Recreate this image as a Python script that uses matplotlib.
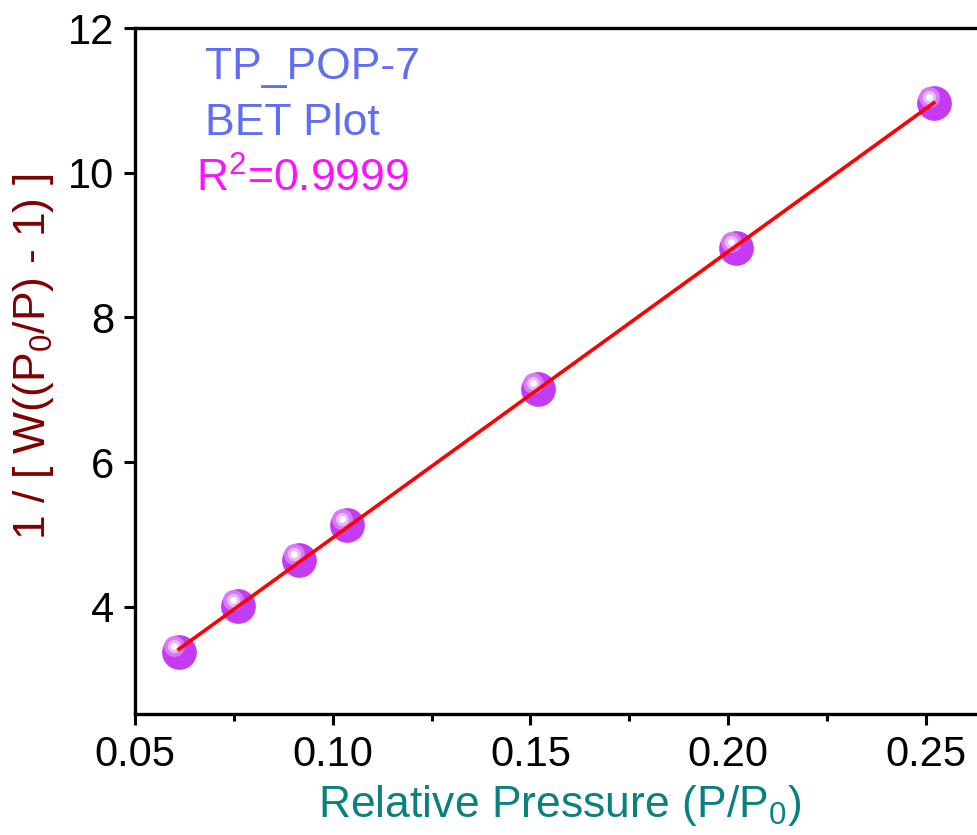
import numpy as np
import matplotlib
matplotlib.use("Agg")
import matplotlib.pyplot as plt
import matplotlib.transforms as mtransforms
from matplotlib.ticker import MultipleLocator, FormatStrFormatter

plt.rcParams["font.family"] = ["Liberation Sans", "DejaVu Sans"]
plt.rcParams["mathtext.fontset"] = "custom"
plt.rcParams["mathtext.rm"] = "Liberation Sans"
plt.rcParams["mathtext.it"] = "Liberation Sans"

# BET datos
presion_rel = [0.0611, 0.0761, 0.0915, 0.1037, 0.1519, 0.2019, 0.2520]
bet_y = [3.37, 4.01, 4.65, 5.13, 7.01, 8.96, 10.97]
x_ticks = [0.05, 0.10, 0.15, 0.20, 0.25]
y_ticks = [4, 6, 8, 10, 12]
muestra = "TP_POP-7"
r2_texto = "0.9999"

px = np.array(presion_rel)
py = np.array(bet_y)

fig = plt.figure(figsize=(9.77, 8.35), dpi=100)
# el eje se sale por la derecha, igual que en la imagen recortada
ax = fig.add_axes([135 / 977, 121 / 835, 870 / 977, 686 / 835])

# esferas: base + brillo desplazado arriba-izquierda
brillo = mtransforms.offset_copy(ax.transData, fig=fig, x=-5, y=6, units="dots")
ax.scatter(px, py, s=25 ** 2, color="#c43cf2", zorder=3, linewidths=0)
ax.scatter(px, py, s=15 ** 2, color="#d77cf5", zorder=4, linewidths=0, transform=brillo)
ax.scatter(px, py, s=9.5 ** 2, color="#eab8f9", zorder=5, linewidths=0, transform=brillo)
ax.scatter(px, py, s=5 ** 2, color="white", zorder=6, linewidths=0, transform=brillo)

# ajuste lineal
m, b = np.polyfit(px, py, 1)
xs = np.array([px.min(), px.max()])
ax.plot(xs, m * xs + b, color="#ff0000", lw=2.6, zorder=7)

ax.set_xlim(0.05, 0.27)
ax.set_ylim(2.52, 12)
ax.set_xticks(x_ticks)
ax.set_yticks(y_ticks)
ax.xaxis.set_minor_locator(MultipleLocator(0.025))
ax.xaxis.set_major_formatter(FormatStrFormatter("%.2f"))
ax.tick_params(axis="both", which="major", direction="out", length=8, width=2.2,
               labelsize=30, pad=7)
ax.tick_params(axis="x", which="minor", direction="out", length=5, width=2.2)
for lado in ["left", "bottom", "top"]:
    ax.spines[lado].set_linewidth(2.4)
ax.spines["right"].set_visible(False)

ax.set_xlabel("Relative Pressure (P/P$_0$)", fontsize=32, color="#0a8080")
ax.set_ylabel("1 / [ W((P$_0$/P) - 1) ]", fontsize=32, color="#800000")
ax.xaxis.set_label_coords((560 - 135) / 870, -0.10)
ax.yaxis.set_label_coords(-(135 - 56) / 870, (835 - 121 - 357) / 686)

ax.text(205 / 977, 1 - 79 / 835, muestra, transform=fig.transFigure, fontsize=32,
        color="#5f6ef2", ha="left", va="baseline")
ax.text(205 / 977, 1 - 135 / 835, "BET Plot", transform=fig.transFigure, fontsize=32,
        color="#5f6ef2", ha="left", va="baseline")
ax.text(196 / 977, 1 - 192 / 835, "R$^2$=" + r2_texto, transform=fig.transFigure,
        fontsize=32, color="#ff10ff", ha="left", va="baseline")

fig.savefig("out.png", dpi=100)
